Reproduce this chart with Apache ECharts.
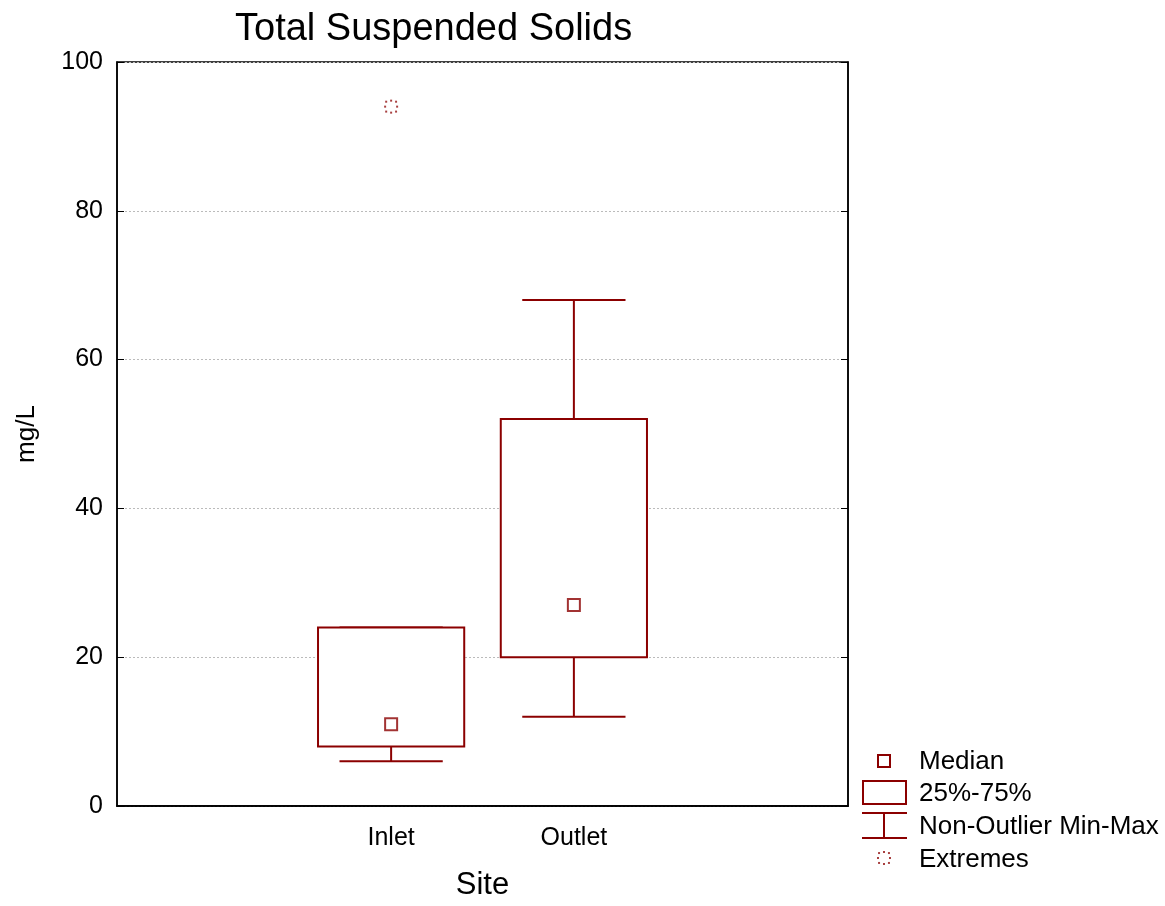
<!DOCTYPE html>
<html>
<head>
<meta charset="utf-8">
<script src="https://cdn.jsdelivr.net/npm/echarts@6/dist/echarts.min.js"></script>
<style>html,body{margin:0;padding:0;background:#fff}#c{width:1165px;height:906px}</style>
</head>
<body>
<div id="c"></div>
<script>
var categories = ['', 'Inlet', 'Outlet', ''];
var sites = ['Inlet', 'Outlet'];
var whiskerMin = [6, 12];
var q1 = [8, 20];
var median = [11, 27];
var q3 = [24, 52];
var whiskerMax = [24, 68];
var extremes = [[ 'Inlet', 94 ]];
var yTicks = [0, 20, 40, 60, 80, 100];

var RED = '#8b0000';
var FONT = 'Liberation Sans, Arial, sans-serif';

var boxData = sites.map(function (s, i) {
  return [categories.indexOf(s), whiskerMin[i], q1[i], median[i], q3[i], whiskerMax[i]];
});
var medianData = sites.map(function (s, i) { return [categories.indexOf(s), median[i]]; });
var extremeData = extremes.map(function (e) { return [categories.indexOf(e[0]), e[1]]; });

function renderBox(params, api) {
  var x = api.value(0);
  var pMin = api.coord([x, api.value(1)]);
  var pQ1 = api.coord([x, api.value(2)]);
  var pQ3 = api.coord([x, api.value(4)]);
  var pMax = api.coord([x, api.value(5)]);
  var bw = api.size([1, 0])[0];
  var boxW = bw * 0.8, capW = bw * 0.565;
  var cx = pQ1[0];
  var st = { stroke: RED, lineWidth: 2, fill: null };
  return {
    type: 'group',
    children: [
      { type: 'line', shape: { x1: cx, y1: pMax[1], x2: cx, y2: pQ3[1] }, style: st },
      { type: 'line', shape: { x1: cx, y1: pQ1[1], x2: cx, y2: pMin[1] }, style: st },
      { type: 'line', shape: { x1: cx - capW / 2, y1: pMax[1], x2: cx + capW / 2, y2: pMax[1] }, style: st },
      { type: 'line', shape: { x1: cx - capW / 2, y1: pMin[1], x2: cx + capW / 2, y2: pMin[1] }, style: st },
      { type: 'rect', shape: { x: cx - boxW / 2, y: pQ3[1], width: boxW, height: pQ1[1] - pQ3[1] }, style: { stroke: RED, lineWidth: 2, fill: '#fff' } }
    ]
  };
}

function starDots(cx, cy) {
  var ch = [];
  for (var k = 0; k < 8; k++) {
    var a = k * Math.PI / 4;
    var r = (k % 2 === 0) ? 6 : 7;
    ch.push({ type: 'rect', shape: { x: cx + r * Math.cos(a) - 1, y: cy + r * Math.sin(a) - 1, width: 2, height: 2 }, style: { fill: RED, opacity: 0.75 } });
  }
  return ch;
}

function renderExtreme(params, api) {
  var p = api.coord([api.value(0), api.value(1)]);
  return { type: 'group', children: starDots(p[0], p[1]) };
}

var chart = echarts.init(document.getElementById('c'), null, { renderer: 'canvas' });
var axisLineStyle = { color: '#000', width: 1.5 };
chart.setOption({
  animation: false,
  backgroundColor: '#fff',
  title: {
    text: 'Total Suspended Solids',
    left: 230, top: 6,
    textStyle: { fontFamily: FONT, fontSize: 38, fontWeight: 'normal', color: '#000' }
  },
  grid: { left: 117, top: 62, width: 731, height: 748, show: true, borderColor: '#000', borderWidth: 1.5, backgroundColor: 'transparent' },
  xAxis: [{
    type: 'category', data: categories, boundaryGap: true,
    name: 'Site', nameLocation: 'middle', nameGap: 64,
    nameTextStyle: { fontFamily: FONT, fontSize: 31, color: '#000' },
    axisLine: { lineStyle: axisLineStyle },
    axisTick: { inside: true, alignWithLabel: true, interval: 0, length: 7, lineStyle: { color: '#000' } },
    axisLabel: { interval: 0, fontFamily: FONT, fontSize: 25, color: '#000', margin: 20 },
    splitLine: { show: false }
  }, {
    type: 'category', data: categories, boundaryGap: true, position: 'top',
    axisLine: { lineStyle: axisLineStyle },
    axisTick: { inside: true, alignWithLabel: true, interval: 0, length: 7, lineStyle: { color: '#000' } },
    axisLabel: { show: false }, splitLine: { show: false }
  }],
  yAxis: [{
    type: 'value', min: 0, max: 100, interval: 20,
    name: 'mg/L', nameLocation: 'middle', nameGap: 77, nameRotate: 90,
    nameTextStyle: { fontFamily: FONT, fontSize: 26, color: '#000' },
    axisLine: { show: true, lineStyle: axisLineStyle },
    axisTick: { show: true, inside: true, length: 7, lineStyle: { color: '#000' } },
    axisLabel: { fontFamily: FONT, fontSize: 25, color: '#000', margin: 14,
      formatter: function (v) { return yTicks.indexOf(v) >= 0 ? String(v) : ''; } },
    splitLine: { show: true, lineStyle: { color: '#bbb', type: [2, 2], width: 1 } }
  }, {
    type: 'value', min: 0, max: 100, interval: 20, position: 'right',
    axisLine: { show: true, lineStyle: axisLineStyle },
    axisTick: { show: true, inside: true, length: 7, lineStyle: { color: '#000' } },
    axisLabel: { show: false }, splitLine: { show: false }
  }],
  series: [{
    name: '25%-75%', type: 'custom', renderItem: renderBox, data: boxData,
    encode: { x: 0, y: [1, 2, 3, 4, 5] }, z: 3
  }, {
    name: 'Median', type: 'scatter', data: medianData, symbol: 'rect', symbolSize: 12,
    itemStyle: { color: '#fff', borderColor: RED, borderWidth: 2 }, z: 5
  }, {
    name: 'Extremes', type: 'custom', renderItem: renderExtreme, data: extremeData,
    encode: { x: 0, y: 1 }, z: 5
  }],
  graphic: [
    { type: 'rect', shape: { x: 878, y: 755, width: 12, height: 12 }, style: { stroke: RED, lineWidth: 2, fill: '#fff' } },
    { type: 'text', x: 919, y: 762, style: { text: 'Median', font: '26px ' + FONT, fill: '#000', textVerticalAlign: 'middle' } },
    { type: 'rect', shape: { x: 863, y: 781, width: 43, height: 23 }, style: { stroke: RED, lineWidth: 2, fill: '#fff' } },
    { type: 'text', x: 919, y: 794, style: { text: '25%-75%', font: '26px ' + FONT, fill: '#000', textVerticalAlign: 'middle' } },
    { type: 'line', shape: { x1: 862, y1: 813, x2: 907, y2: 813 }, style: { stroke: RED, lineWidth: 2 } },
    { type: 'line', shape: { x1: 884, y1: 813, x2: 884, y2: 838 }, style: { stroke: RED, lineWidth: 2 } },
    { type: 'line', shape: { x1: 862, y1: 838, x2: 907, y2: 838 }, style: { stroke: RED, lineWidth: 2 } },
    { type: 'text', x: 919, y: 827, style: { text: 'Non-Outlier Min-Max', font: '26px ' + FONT, fill: '#000', textVerticalAlign: 'middle' } },
    { type: 'group', children: starDots(884, 858) },
    { type: 'text', x: 919, y: 860, style: { text: 'Extremes', font: '26px ' + FONT, fill: '#000', textVerticalAlign: 'middle' } }
  ]
});
</script>
</body>
</html>
